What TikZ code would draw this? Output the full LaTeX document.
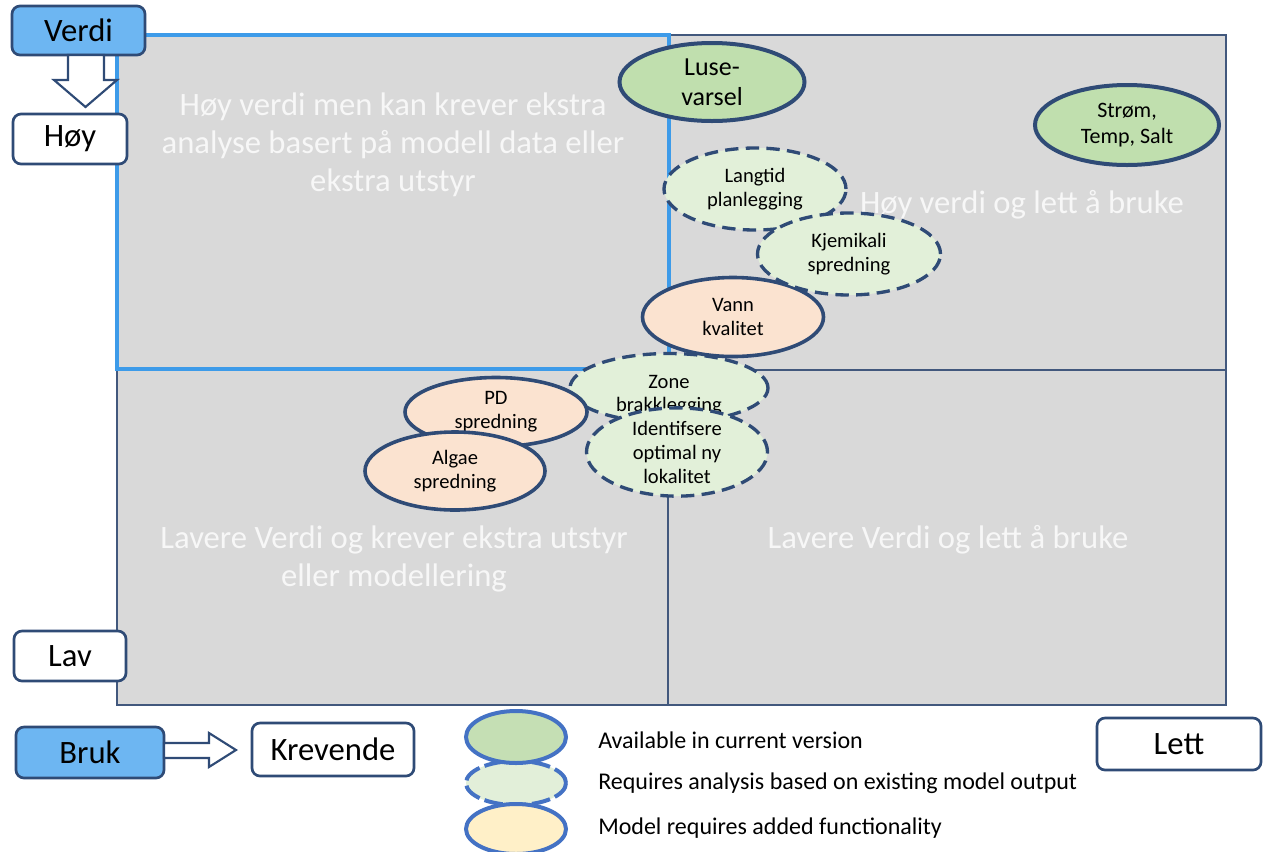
\documentclass[tikz,border=0pt]{standalone}
\usepackage{fontspec}
\setmainfont{Carlito}
\usetikzlibrary{shapes.geometric}
\definecolor{quadgray}{HTML}{D9D9D9}
\definecolor{tlblue}{HTML}{3D9BE9}
\definecolor{darkedge}{HTML}{42587D}
\definecolor{elledge}{HTML}{2F4B76}
\definecolor{boxblue}{HTML}{6DB6F2}
\definecolor{gfill}{HTML}{C0DFAE}
\definecolor{lgfill}{HTML}{E2F0D9}
\definecolor{ofill}{HTML}{FBE3D0}
\definecolor{legedge}{HTML}{4472C4}
\definecolor{leggreen}{HTML}{C5DFB4}
\definecolor{legdash}{HTML}{E2EFD9}
\definecolor{legyellow}{HTML}{FFF0C8}
\definecolor{qtextcol}{HTML}{F7F7F7}
\begin{document}
\begin{tikzpicture}[x=0.75pt,y=-0.75pt,
  quadd/.style={draw=darkedge,fill=quadgray,line width=2.2pt},
  quadl/.style={draw=tlblue,fill=quadgray,line width=2.4pt},
  qtext/.style={text=qtextcol,align=center,font=\fontsize{24.5}{28.5}\selectfont},
  axbox/.style={draw=elledge,line width=2pt,rounded corners=6pt,fill=white,inner sep=0pt,font=\fontsize{24.5}{28}\selectfont},
  bluebox/.style={axbox,fill=boxblue},
  elbase/.style={ellipse,draw=elledge,inner sep=0pt,align=center,font=\fontsize{15.4}{18}\selectfont},
  eltext/.style={inner sep=0pt,align=center,font=\fontsize{15.4}{17.5}\selectfont},
  solidel/.style={elbase,line width=2.7pt},
  dashel/.style={elbase,line width=2.5pt,dash pattern=on 10pt off 5.5pt},
  legel/.style={ellipse,draw=legedge,line width=3pt,inner sep=0pt,minimum width=75pt},
  legtext/.style={anchor=west,inner sep=0pt,font=\fontsize{18}{20}\selectfont},
  hollow/.style={draw=elledge,fill=white,line width=1.6pt,line join=miter}
]
\useasboundingbox (0,0) rectangle (1268,851);

% quadrants
\draw[quadd] (117,370) rectangle (668,705);
\draw[quadd] (668,370) rectangle (1226,705);
\draw[quadd] (670,35) rectangle (1226,370);
\draw[quadl] (117,35) rectangle (669,369);

\node[qtext] (tltext) at (393,145) {Høy verdi men kan krever ekstra\\analyse basert på modell data eller\\ekstra utstyr};
\node[qtext] (trtext) at (1022,205) {Høy verdi og lett å bruke};
\node[qtext] (bltext) at (394,559) {Lavere Verdi og krever ekstra utstyr\\eller modellering};
\node[qtext] (brtext) at (948,540) {Lavere Verdi og lett å bruke};

% axis boxes
\node[bluebox,minimum width=99.75pt,minimum height=36.75pt] (verdi) at (78.5,30.5) {Verdi};
\node[axbox,minimum width=85.5pt,minimum height=37.5pt] (hoy) at (70,139) {Høy};
\node[axbox,minimum width=84pt,minimum height=37.5pt] (lav) at (70,656) {Lav};
\node[bluebox,minimum width=111pt,minimum height=38.25pt] (bruk) at (90,752.5) {Bruk};
\node[axbox,minimum width=121.5pt,minimum height=39.75pt] (krev) at (333,749.5) {Krevende};
\node[axbox,minimum width=123pt,minimum height=39pt] (lett) at (1179,744) {Lett};

% hollow arrows
\draw[hollow] (68,55) -- (104,55) -- (104,80) -- (117,80) -- (85.5,107) -- (54,80) -- (68,80) -- cycle;
\draw[hollow] (164,743) -- (209,743) -- (209,733) -- (236,750) -- (209,767) -- (209,758) -- (164,758) -- cycle;

% ellipses
\node[dashel,fill=lgfill,minimum width=148.5pt,minimum height=51.75pt] (zone) at (669,388) {};
\node[eltext] (zonetext) at (669,395) {Zone\\brakklegging};
\node[solidel,fill=ofill,minimum width=135.75pt,minimum height=59.25pt] (vann) at (733,317) {Vann\\kvalitet};
\node[dashel,fill=lgfill,minimum width=135.75pt,minimum height=60pt] (ident) at (677,452) {Identifsere\\optimal ny\\lokalitet};
\node[solidel,fill=ofill,minimum width=136.5pt,minimum height=51.75pt] (pd) at (496,412) {PD\\spredning};
\node[solidel,fill=ofill,minimum width=135pt,minimum height=58.5pt] (algae) at (455,471) {Algae\\spredning};
\node[dashel,fill=lgfill,minimum width=136.5pt,minimum height=61.5pt] (langtid) at (755,189) {Langtid\\planlegging};
\node[dashel,fill=lgfill,minimum width=137.25pt,minimum height=61.5pt] (kjem) at (849,254) {Kjemikali\\spredning};
\node[solidel,line width=3pt,fill=gfill,minimum width=138.75pt,minimum height=58.5pt,font=\fontsize{19.5}{22.5}\selectfont] (luse) at (712,82) {Luse-\\varsel};
\node[solidel,line width=3pt,fill=gfill,minimum width=138pt,minimum height=60pt,font=\fontsize{16.5}{19.5}\selectfont] (strom) at (1127,125) {Strøm,\\Temp, Salt};

% legend
\node[legel,fill=legdash,minimum height=33pt,dash pattern=on 14pt off 4pt] (lgdash) at (516,783) {};
\node[legel,fill=leggreen,minimum height=39pt] (lggreen) at (516,737) {};
\node[legel,fill=legyellow,minimum height=37.5pt] (lgyellow) at (516,829) {};
\node[legtext] (lt1) at (598,740) {Available in current version};
\node[legtext] (lt2) at (598,783) {Requires analysis based on existing model output};
\node[legtext] (lt3) at (598,828) {Model requires added functionality};
\end{tikzpicture}
\end{document}
